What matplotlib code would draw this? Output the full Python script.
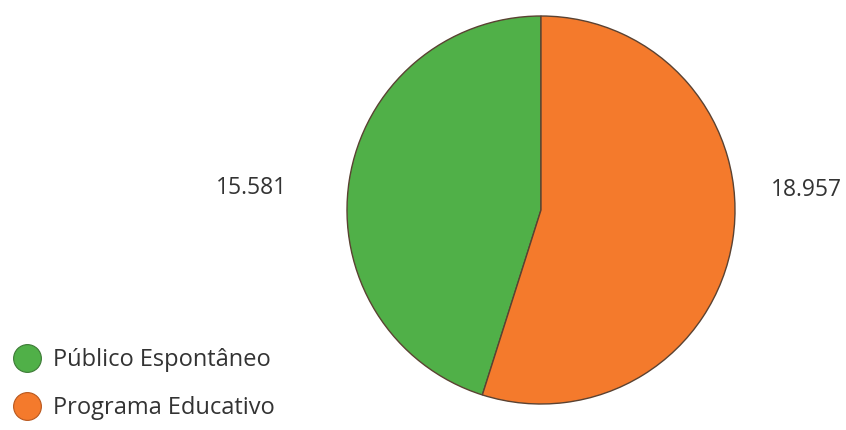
import matplotlib
matplotlib.use("Agg")
import matplotlib.pyplot as plt
from matplotlib.lines import Line2D

categories = ["Público Espontâneo", "Programa Educativo"]
values = [15581, 18957]
value_labels = ["15.581", "18.957"]
colors = ["#50B048", "#F47A2C"]
marker_edges = ["#3d7a36", "#b8571d"]

plt.rcParams['font.family'] = ['Open Sans', 'DejaVu Sans']

fig = plt.figure(figsize=(8.46, 4.30), dpi=100)
ax = fig.add_axes([0, 0, 1, 1])

# pie, green goes counter-clockwise from the top
ax.pie(values, colors=colors, startangle=90, counterclock=True,
       center=(541, 220), radius=194,
       wedgeprops=dict(edgecolor='#5a4232', linewidth=1.0))

# pie() resets the limits, so set them afterwards
ax.set_xlim(0, 846)
ax.set_ylim(0, 430)
ax.set_aspect('equal')
ax.axis('off')

# value labels beside the pie
ax.text(251, 430 - 188, value_labels[0], ha='center', va='center',
        fontsize=16.5, color='#333333')
ax.text(806, 430 - 190, value_labels[1], ha='center', va='center',
        fontsize=16.5, color='#333333')

handles = [Line2D([], [], linestyle='none', marker='o', markersize=20,
                  color=c, markerfacecolor=c, markeredgecolor=e,
                  markeredgewidth=0.8)
           for c, e in zip(colors, marker_edges)]
ax.legend(handles, categories, loc='center left', bbox_to_anchor=(0.001, 1 - 384 / 430),
          frameon=False, fontsize=17, labelcolor='#333333',
          handlelength=1.2, handletextpad=0.5, labelspacing=1.0, borderpad=0)

fig.savefig('out.png', dpi=100, facecolor='white')
